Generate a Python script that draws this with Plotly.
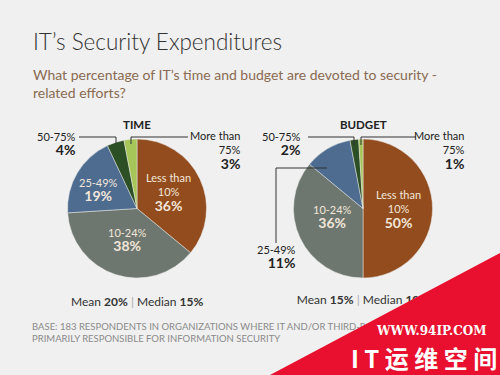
import plotly.graph_objects as go

# ---- data ----
categories = ["Less than 10%", "10-24%", "25-49%", "50-75%", "More than 75%"]
time_values = [36, 38, 19, 4, 3]
budget_values = [50, 36, 11, 2, 1]
slice_colors = ["#934c1d", "#6d776f", "#4d6c8f", "#2d4f25", "#a6c65a"]
time_mean, time_median = 20, 15
budget_mean, budget_median = 15, 10

BG = "#f0f0f0"
FONT = "Lato"
W, H = 500, 375

def px(x):
    return x / W

def py(y):
    return 1 - y / H

fig = go.Figure()

fig.add_trace(go.Pie(
    values=time_values, labels=categories, sort=False, direction="clockwise",
    rotation=0, textinfo="none", hoverinfo="none", showlegend=False,
    marker=dict(colors=slice_colors, line=dict(color="#e8e8e8", width=0.5)),
    domain=dict(x=[px(67), px(207)], y=[py(278), py(139)]),
))
fig.add_trace(go.Pie(
    values=budget_values, labels=categories, sort=False, direction="clockwise",
    rotation=0, textinfo="none", hoverinfo="none", showlegend=False,
    marker=dict(colors=slice_colors, line=dict(color="#e8e8e8", width=0.5)),
    domain=dict(x=[px(293), px(433)], y=[py(278), py(139)]),
))

# texts that sit under the watermark are drawn as a text trace (below shapes)
fig.add_trace(go.Scatter(
    x=[32, 32, 363],
    y=[328, 340, 301],
    mode="text",
    text=[
        "BASE: 183 RESPONDENTS IN ORGANIZATIONS WHERE IT AND/OR THIRD-PARTY PROVIDERS ARE",
        "PRIMARILY RESPONSIBLE FOR INFORMATION SECURITY",
        f"Mean <b>{budget_mean}%</b> <span style='color:#aaaaaa'>|</span> Median <b>{budget_median}%</b>",
    ],
    textposition=["middle right", "middle right", "middle center"],
    textfont=dict(family=FONT, size=[9.5, 9.5, 12], color=["#8a8a8a", "#8a8a8a", "#333333"]),
    hoverinfo="none", showlegend=False,
))

ann = []

def add(text, x, y, size=11, color="#222222", xanchor="center", weight=None, family=FONT):
    f = dict(family=family, size=size, color=color)
    if weight:
        f["weight"] = weight
    ann.append(dict(text=text, x=px(x), y=py(y), xref="paper", yref="paper",
                    xanchor=xanchor, yanchor="middle", showarrow=False, font=f,
                    align="right" if xanchor == "right" else ("left" if xanchor == "left" else "center")))

# title / subtitle
add("IT’s Security Expenditures", 31, 42, size=22.5, color="#333333", xanchor="left", weight=300)
add("What percentage of IT’s time and budget are devoted to security -<br>related efforts?",
    31, 84, size=14, color="#8a6a50", xanchor="left")

# section headers
add("<b>TIME</b>", 137, 124, size=11.5)
add("<b>BUDGET</b>", 363, 124, size=11.5)

light = "#f2e6da"
# time inside labels
add(f"Less than<br>10%<br><b style='font-size:14px'>{time_values[0]}%</b>", 168, 192, size=11, color=light)
add(f"25-49%<br><b style='font-size:14px'>{time_values[2]}%</b>", 98, 190, size=11, color=light)
add(f"10-24%<br><b style='font-size:14px'>{time_values[1]}%</b>", 127, 240, size=11, color=light)
# time outside labels
add(f"50-75%<br><b style='font-size:14px'>{time_values[3]}%</b>", 78, 144, size=11, color="#222222", xanchor="right")
add(f"More than<br>75%<br><b style='font-size:14px'>{time_values[4]}%</b>", 243, 150, size=11, color="#222222", xanchor="right")

# budget inside labels
add(f"Less than<br>10%<br><b style='font-size:14px'>{budget_values[0]}%</b>", 398, 209, size=11, color=light)
add(f"10-24%<br><b style='font-size:14px'>{budget_values[1]}%</b>", 332, 217, size=11, color=light)
# budget outside labels
add(f"50-75%<br><b style='font-size:14px'>{budget_values[3]}%</b>", 303, 144, size=11, color="#222222", xanchor="right")
add(f"More than<br>75%<br><b style='font-size:14px'>{budget_values[4]}%</b>", 467, 150, size=11, color="#222222", xanchor="right")
add(f"25-49%<br><b style='font-size:14px'>{budget_values[2]}%</b>", 298, 257, size=11, color="#222222", xanchor="right")

# time mean / median
add(f"Mean <b>{time_mean}%</b> <span style='color:#aaaaaa'>|</span> Median <b>{time_median}%</b>", 137, 301, size=12, color="#333333")

# watermark text
add("<b>WWW.94IP.COM</b>", 431, 331, size=12, color="#ffffff", family="DejaVu Serif")
add("<b>I T 运 维 空 间</b>", 424, 357, size=24, color="#ffffff", family="Noto Sans CJK SC")

shapes = []
def line(points):
    path = "M " + " L ".join(f"{x},{y}" for x, y in points)
    shapes.append(dict(type="path", path=path, xref="x", yref="y",
                       line=dict(color="#333333", width=1), layer="above"))

line([(79, 137), (116, 137), (116, 144)])
line([(131, 144), (131, 137), (188, 137)])
line([(308, 137), (354, 137), (354, 145)])
line([(361, 145), (361, 137), (416, 137)])
line([(327, 168), (276, 168), (276, 243)])

# watermark triangle
shapes.append(dict(type="path", path="M 270,375 L 500,253 L 500,375 Z", xref="x", yref="y",
                   fillcolor="#e8102e", line=dict(width=0), layer="above"))

fig.update_layout(
    width=W, height=H, margin=dict(l=0, r=0, t=0, b=0),
    paper_bgcolor=BG, plot_bgcolor=BG,
    annotations=ann, shapes=shapes,
    xaxis=dict(range=[0, W], visible=False, domain=[0, 1], fixedrange=True),
    yaxis=dict(range=[H, 0], visible=False, domain=[0, 1], fixedrange=True),
    showlegend=False,
)

fig.write_html("out.html", config={"displayModeBar": False},
               post_script="document.body.style.margin='0';document.body.style.background='#f0f0f0';")
